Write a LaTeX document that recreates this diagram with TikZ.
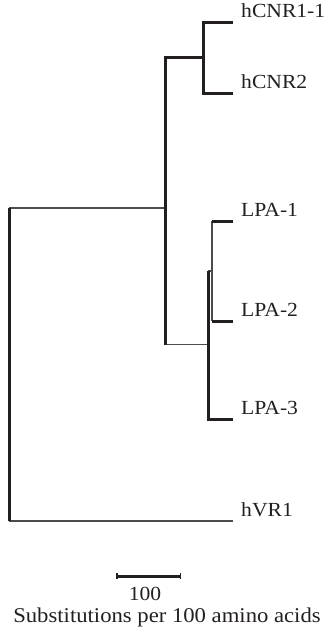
\documentclass[tikz,border=0pt]{standalone}
\usepackage{fontspec}
\setmainfont{Liberation Serif}[FakeStretch=1.08]
\usepackage{xcolor}
\definecolor{ink}{HTML}{231F20}
\begin{document}
\begin{tikzpicture}[x=1pt,y=-1pt,
  heavy/.style={draw=ink,line width=3pt},
  light/.style={draw=black!70,line width=1.3pt},
  leaf/.style={anchor=base west,inner sep=0pt,font=\fontsize{20}{24}\selectfont,text=ink}]
\useasboundingbox (0,0) rectangle (325,627);
% internal nodes
\coordinate (root) at (9,364.5);
\coordinate (n1) at (165,208);
\coordinate (n2) at (203,57);
\coordinate (n3) at (208,344.5);
\coordinate (n4) at (212,271);
% leaf tips
\coordinate (t1) at (233,22);
\coordinate (t2) at (233,93);
\coordinate (t3) at (233,221);
\coordinate (t4) at (233,321);
\coordinate (t5) at (233,419);
\coordinate (t6) at (233,521);
% labels
\node[leaf] (L1) at ([xshift=8pt,yshift=5pt]t1) {hCNR1-1};
\node[leaf] (L2) at ([xshift=8pt,yshift=5pt]t2) {hCNR2};
\node[leaf] (L3) at ([xshift=8pt,yshift=5pt]t3) {LPA-1};
\node[leaf] (L4) at ([xshift=8pt,yshift=5pt]t4) {LPA-2};
\node[leaf] (L5) at ([xshift=8pt,yshift=5pt]t5) {LPA-3};
\node[leaf] (L6) at ([xshift=8pt,yshift=5pt]t6) {hVR1};
% root
\draw[light] (root |- n1) -- (n1);
\draw[light] (root |- t6) -- (t6);
\draw[heavy] (root |- n1) -- (root |- t6);
% n1
\draw[light] (n1 |- n3) -- (n3);
\draw[heavy] (n2) -| (n1) |- (n1 |- n3);
% n2
\draw[heavy] (t1) -| (n2) |- (t2);
% n3
\draw[light] (n3 |- n4) -- (n4);
\draw[heavy] (n3 |- n4) -- (n3) |- (t5);
% n4
\draw[light] (n4 |- t3) -- (n4 |- t4);
\draw[heavy] (n4 |- t3) -- (t3);
\draw[heavy] (n4 |- t4) -- (t4);
% scale bar
\coordinate (s1) at (117,576);
\coordinate (s2) at (180.5,576);
\draw[heavy] (s1) -- (s2);
\draw[draw=ink,line width=1.2pt] ([yshift=-2.8pt]s1) -- ([yshift=2.8pt]s1);
\draw[draw=ink,line width=1.2pt] ([yshift=-2.8pt]s2) -- ([yshift=2.8pt]s2);
\node[anchor=base,inner sep=0pt,font=\fontsize{20}{24}\selectfont,text=ink] (sl) at (145,600) {100};
\node[anchor=base,inner sep=0pt,font=\fontsize{21}{24}\selectfont,text=ink] (cap) at (167,622) {Substitutions per 100 amino acids};
\end{tikzpicture}
\end{document}
